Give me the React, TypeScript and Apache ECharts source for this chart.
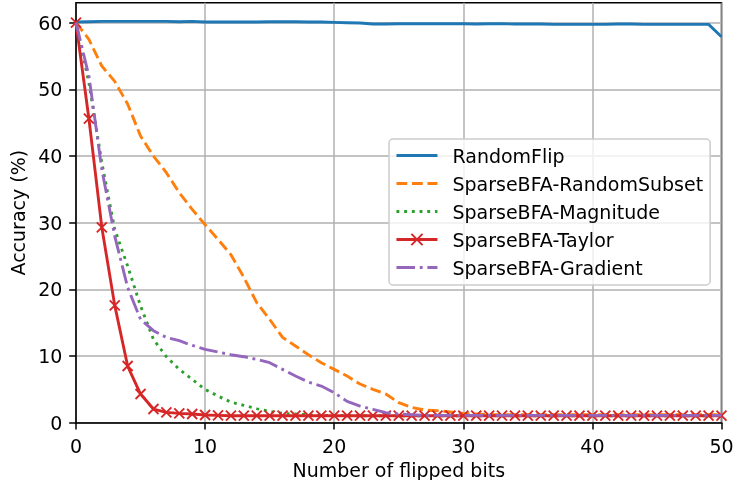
import React, { useEffect, useRef } from "react";
import * as echarts from "echarts";

const bits: number[] = Array.from({ length: 51 }, (_, i) => i);

const randomFlip = [
  60.1, 60.15, 60.2, 60.2, 60.2, 60.2, 60.2, 60.2, 60.15, 60.2,
  60.1, 60.1, 60.1, 60.1, 60.1, 60.15, 60.15, 60.15, 60.1, 60.1,
  60.05, 60.0, 59.95, 59.8, 59.8, 59.85, 59.85, 59.85, 59.85, 59.85,
  59.85, 59.8, 59.85, 59.85, 59.8, 59.8, 59.8, 59.75, 59.75, 59.75,
  59.75, 59.75, 59.8, 59.8, 59.75, 59.75, 59.75, 59.75, 59.75, 59.75,
  57.9,
];

const randomSubset = [
  60, 57.5, 53.5, 51.2, 47.8, 43, 40, 37.5, 34.5, 32,
  29.7, 27.5, 25.2, 21.8, 18, 15.5, 12.8, 11.5, 10.2, 9.0,
  8.0, 7.0, 5.8, 5.0, 4.3, 3.0, 2.3, 1.9, 1.8, 1.6,
  1.4, 1.3, 1.2, 1.2, 1.2, 1.2, 1.2, 1.2, 1.2, 1.2,
  1.2, 1.2, 1.2, 1.2, 1.2, 1.2, 1.2, 1.2, 1.2, 1.2,
  1.2,
];

const magnitude = [
  60, 51, 39, 29, 23.5, 17.5, 12.5, 9.9, 8.0, 6.5,
  5.0, 4.0, 3.1, 2.6, 2.1, 1.7, 1.4, 1.3, 1.2, 1.1,
  1.1, 1.05, 1.05, 1.05, 1.05, 1.05, 1.05, 1.05, 1.05, 1.05,
  1.05, 1.05, 1.05, 1.05, 1.05, 1.05, 1.05, 1.05, 1.05, 1.05,
  1.05, 1.05, 1.05, 1.05, 1.05, 1.05, 1.05, 1.05, 1.05, 1.05,
  1.05,
];

const taylor = [
  60, 45.6, 29.3, 17.6, 8.5, 4.3, 2.05, 1.55, 1.4, 1.3,
  1.15, 1.1, 1.05, 1.05, 1.05, 1.05, 1.05, 1.05, 1.05, 1.05,
  1.05, 1.05, 1.05, 1.05, 1.05, 1.05, 1.05, 1.05, 1.05, 1.05,
  1.05, 1.05, 1.05, 1.05, 1.05, 1.05, 1.05, 1.05, 1.05, 1.05,
  1.05, 1.05, 1.05, 1.05, 1.05, 1.05, 1.05, 1.05, 1.05, 1.05,
  1.05,
];

const gradient = [
  60, 52, 38, 28, 20.3, 15.5, 13.8, 12.8, 12.3, 11.6,
  11.0, 10.6, 10.2, 9.9, 9.5, 9.0, 8.0, 7.0, 6.1, 5.5,
  4.5, 3.2, 2.5, 2.0, 1.5, 1.3, 1.2, 1.1, 1.1, 1.1,
  1.1, 1.1, 1.1, 1.1, 1.1, 1.1, 1.1, 1.1, 1.1, 1.1,
  1.1, 1.1, 1.1, 1.1, 1.1, 1.1, 1.1, 1.1, 1.1, 1.1,
  1.1,
];

const seriesNames = [
  "RandomFlip",
  "SparseBFA-RandomSubset",
  "SparseBFA-Magnitude",
  "SparseBFA-Taylor",
  "SparseBFA-Gradient",
];
const colors = ["#1f77b4", "#ff7f0e", "#2ca02c", "#d62728", "#9467bd"];
const yTicks = [0, 10, 20, 30, 40, 50, 60];
const xTicks = [0, 10, 20, 30, 40, 50];

const FONT = "DejaVu Sans";
const FS = 19;

export default function App() {
  const ref = useRef<HTMLDivElement>(null);
  useEffect(() => {
    if (!ref.current) return;
    const chart = echarts.init(ref.current, undefined, { renderer: "svg" });
    const toPairs = (arr: number[]) => arr.map((v, i) => [bits[i], v]);
    const dashTypes: any[] = [
      "solid",
      [10.8, 4.7],
      [2.9, 4.8],
      "solid",
      [18.6, 4.7, 2.9, 4.7],
    ];
    const allData = [randomFlip, randomSubset, magnitude, taylor, gradient];
    const series = allData.map((d, k) => ({
      name: seriesNames[k],
      type: "line",
      data: toPairs(d),
      symbol: k === 3 ? "path://M0 0L10 10M10 0L0 10" : "none",
      symbolSize: 10,
      showSymbol: k === 3,
      lineStyle: {
        color: colors[k],
        width: 2.9,
        type: dashTypes[k],
        cap: "butt",
      },
      itemStyle: {
        color: colors[k],
        borderColor: colors[k],
        borderWidth: 1.9,
      },
      emphasis: { disabled: true },
      z: 2 + k,
    }));
    chart.setOption({
      animation: false,
      color: colors,
      grid: {
        left: 76,
        right: 13.5,
        top: 2.7,
        bottom: 57.3,
        show: true,
        borderColor: "#000",
        borderWidth: 1.5,
        backgroundColor: "transparent",
        containLabel: false,
        outerBoundsMode: "none",
      },
      legend: {
        orient: "vertical",
        left: 389,
        top: 139,
        padding: [7, 7, 8, 6],
        itemGap: 9,
        itemWidth: 41,
        itemHeight: 14,
        backgroundColor: "rgba(255,255,255,0.8)",
        borderColor: "#cccccc",
        borderWidth: 1.5,
        borderRadius: 4,
        lineStyle: { width: 2.9 },
        textStyle: {
          fontFamily: FONT,
          fontSize: FS,
          color: "#000",
          lineHeight: 19,
          padding: [0, 0, 0, 10],
        },
        data: seriesNames.map((n, k) =>
          k === 3 ? { name: n } : { name: n, itemStyle: { opacity: 0 } }
        ),
      },
      xAxis: {
        type: "value",
        min: 0,
        max: 50,
        interval: 10,
        name: "Number of flipped bits",
        nameLocation: "middle",
        nameGap: 35,
        nameTextStyle: { fontFamily: FONT, fontSize: FS, color: "#000" },
        axisLine: { show: true, lineStyle: { color: "#000", width: 1.5 } },
        axisTick: {
          show: true,
          inside: false,
          length: 6.8,
          lineStyle: { color: "#000", width: 1.5 },
          customValues: xTicks,
        },
        axisLabel: {
          fontFamily: FONT,
          fontSize: FS,
          color: "#000",
          margin: 13.6,
          customValues: xTicks,
        },
        splitLine: { show: true, lineStyle: { color: "#b0b0b0", width: 1.5 } },
      },
      yAxis: {
        type: "value",
        min: 0,
        max: 63,
        interval: 10,
        name: "Accuracy (%)",
        nameLocation: "middle",
        nameGap: 40,
        nameTextStyle: { fontFamily: FONT, fontSize: FS, color: "#000" },
        axisLine: { show: true, lineStyle: { color: "#000", width: 1.5 } },
        axisTick: {
          show: true,
          inside: false,
          length: 6.8,
          lineStyle: { color: "#000", width: 1.5 },
          customValues: yTicks,
        },
        axisLabel: {
          fontFamily: FONT,
          fontSize: FS,
          color: "#000",
          margin: 13.6,
          customValues: yTicks,
        },
        splitLine: { show: true, lineStyle: { color: "#b0b0b0", width: 1.5 } },
      },
      series,
    });
    return () => chart.dispose();
  }, []);
  return (
    <div
      ref={ref}
      style={{ position: "fixed", left: 0, top: 0, width: 735, height: 480 }}
    />
  );
}
